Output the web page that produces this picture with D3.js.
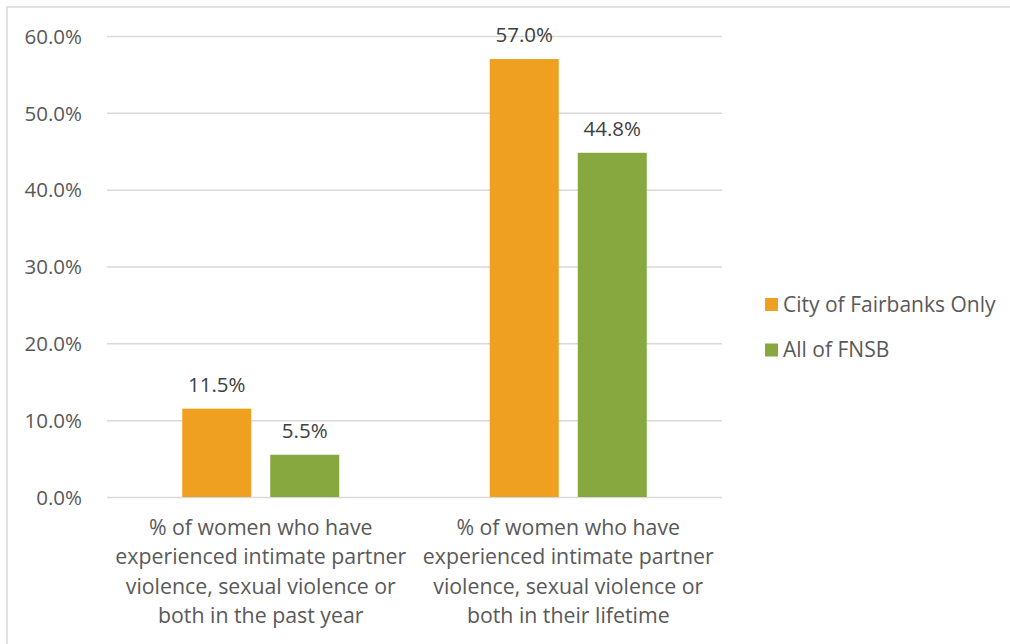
<!DOCTYPE html>
<html>
<head>
<meta charset="utf-8">
<script src="https://cdn.jsdelivr.net/npm/d3@7"></script>
<style>
  html, body { margin: 0; padding: 0; background: #fff; }
  svg { display: block; }
  text { font-family: "Open Sans", "Noto Sans", sans-serif; }
</style>
</head>
<body>
<svg id="chart" width="1010" height="644"></svg>
<script>
// Survey results: share of women reporting violence
const categories = [
  ["% of women who have", "experienced intimate partner", "violence, sexual violence or", "both in the past year"],
  ["% of women who have", "experienced intimate partner", "violence, sexual violence or", "both in their lifetime"]
];
const seriesNames = ["City of Fairbanks Only", "All of FNSB"];
const fairbanksValues = [11.5, 57.0];
const fnsbValues = [5.5, 44.8];
const yTicks = [0, 10, 20, 30, 40, 50, 60];
const colors = ["#F0A020", "#86A83E"];

const FONT = "20.5px";
const CAT_FONT = "21.3px";
const LEGEND_FONT = "21px";
const svg = d3.select("#chart");
const W = 1010, H = 644;

// outer frame
svg.append("rect")
  .attr("x", 7).attr("y", 7)
  .attr("width", W + 10).attr("height", H + 10)
  .attr("fill", "#fff")
  .attr("stroke", "#d9d9d9").attr("stroke-width", 1.5);

const plot = { left: 107, right: 722, top: 36, bottom: 497 };

const x0 = d3.scaleBand()
  .domain(d3.range(categories.length))
  .range([plot.left, plot.right])
  .paddingInner(0).paddingOuter(0);

const x1 = d3.scaleBand()
  .domain(d3.range(seriesNames.length))
  .range([0, x0.bandwidth()])
  .paddingInner(0.216).paddingOuter(0.855);

const y = d3.scaleLinear().domain([0, 60]).range([plot.bottom, plot.top]);

// gridlines and value axis
const yAxis = d3.axisLeft(y)
  .tickValues(yTicks)
  .tickSize(-(plot.right - plot.left))
  .tickFormat(d => d.toFixed(1) + "%")
  .tickPadding(25);

const gy = svg.append("g")
  .attr("transform", `translate(${plot.left},0)`)
  .call(yAxis);
gy.select(".domain").remove();
gy.selectAll(".tick line").attr("stroke", "#d9d9d9").attr("stroke-width", 1.5);
gy.selectAll(".tick text")
  .attr("fill", "#595959")
  .attr("dy", "0.35em")
  .style("font-size", FONT)
  .style("font-family", "'Open Sans', sans-serif");

const seriesData = [fairbanksValues, fnsbValues];

// bars with value labels
seriesData.forEach((vals, s) => {
  svg.append("g").selectAll("rect")
    .data(vals)
    .join("rect")
    .attr("x", (d, i) => x0(i) + x1(s))
    .attr("width", x1.bandwidth())
    .attr("y", d => y(d))
    .attr("height", d => y(0) - y(d))
    .attr("fill", colors[s]);

  svg.append("g").selectAll("text")
    .data(vals)
    .join("text")
    .attr("x", (d, i) => x0(i) + x1(s) + x1.bandwidth() / 2)
    .attr("y", d => y(d) - 17)
    .attr("text-anchor", "middle")
    .attr("fill", "#404040")
    .style("font-size", FONT)
    .text(d => d.toFixed(1) + "%");
});

// category labels
const catG = svg.append("g");
categories.forEach((lines, i) => {
  const cx = x0(i) + x0.bandwidth() / 2;
  const t = catG.append("text")
    .attr("x", cx)
    .attr("y", 535)
    .attr("text-anchor", "middle")
    .attr("fill", "#595959")
    .style("font-size", CAT_FONT);
  lines.forEach((ln, j) => {
    t.append("tspan")
      .attr("x", cx)
      .attr("dy", j === 0 ? 0 : 29.4)
      .text(ln);
  });
});

// legend
const legend = svg.append("g").attr("transform", "translate(765,298)");
seriesNames.forEach((name, i) => {
  const g = legend.append("g").attr("transform", `translate(0,${i * 45.5})`);
  g.append("rect").attr("width", 13).attr("height", 13).attr("fill", colors[i]);
  g.append("text")
    .attr("x", 18).attr("y", 13.5)
    .attr("fill", "#595959")
    .style("font-size", LEGEND_FONT)
    .text(name);
});
</script>
</body>
</html>
